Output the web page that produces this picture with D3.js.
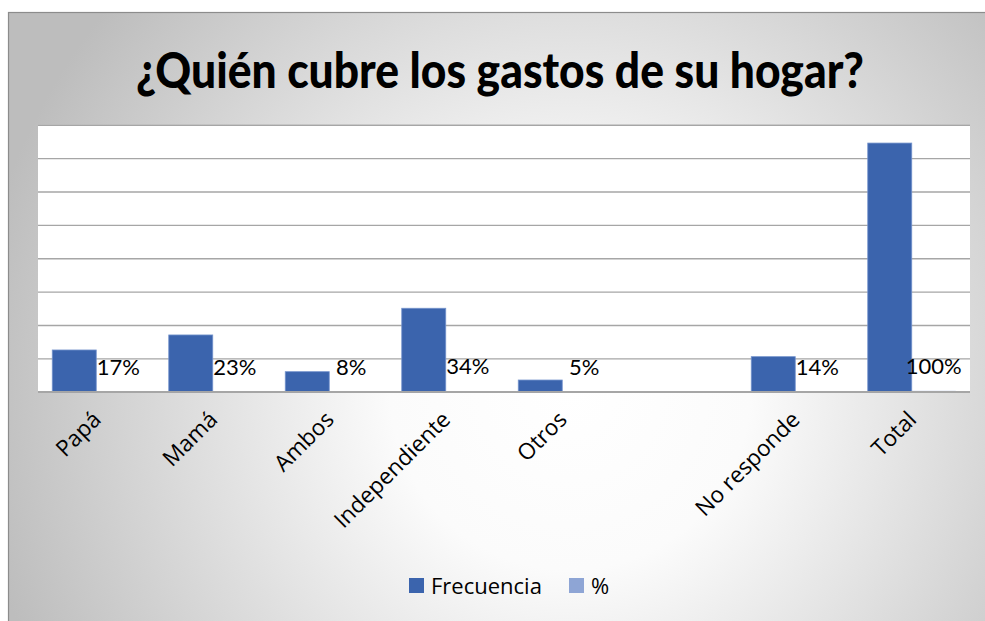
<!DOCTYPE html>
<html>
<head>
<meta charset="utf-8">
<script src="https://cdnjs.cloudflare.com/ajax/libs/d3/7.8.5/d3.min.js"></script>
<style>
  body { margin: 0; background: #fff; }
  svg { display: block; }
</style>
</head>
<body>
<div id="chart"></div>
<script>
// data
var chartTitle = "¿Quién cubre los gastos de su hogar?";
var categories = ["Papá", "Mamá", "Ambos", "Independiente", "Otros", "", "No responde", "Total"];
var frecuencia = [50, 68, 24, 100, 14, null, 42, 298];
var porcentaje = [0.17, 0.23, 0.08, 0.34, 0.05, null, 0.14, 1.00];
var pctLabels = ["17%", "23%", "8%", "34%", "5%", "", "14%", "100%"];
var seriesNames = ["Frecuencia", "%"];
var yTicks = [0, 40, 80, 120, 160, 200, 240, 280, 320];

var seriesColours = { "Frecuencia": "#3b64ad", "%": "#8ea5d5" };

var width = 985, height = 621;
var plot = { left: 38, right: 970, top: 124.7, bottom: 391.7 };

var svg = d3.select("#chart")
  .append("svg")
  .attr("width", width)
  .attr("height", height);

// background - excel style gradient, white in the middle fading to grey
var defs = svg.append("defs");
var grad = defs.append("radialGradient")
  .attr("id", "bgGrad")
  .attr("gradientUnits", "userSpaceOnUse")
  .attr("cx", 570).attr("cy", 390).attr("r", 600);
grad.append("stop").attr("offset", "0").attr("stop-color", "#ffffff");
grad.append("stop").attr("offset", "0.3").attr("stop-color", "#fbfbfb");
grad.append("stop").attr("offset", "1").attr("stop-color", "#bdbdbd");

svg.append("rect")
  .attr("x", 8.5).attr("y", 12.5)
  .attr("width", 1000).attr("height", 640)
  .style("fill", "url(#bgGrad)")
  .style("stroke", "#8c8c8c")
  .style("stroke-width", 1.2);

// title
svg.append("text")
  .attr("x", 500).attr("y", 88)
  .attr("text-anchor", "middle")
  .attr("textLength", 728)
  .attr("lengthAdjust", "spacingAndGlyphs")
  .style("font-family", "Lato, 'Open Sans', sans-serif")
  .style("font-weight", "900")
  .style("font-size", "49px")
  .style("fill", "#000")
  .text(chartTitle);

// scales
var x = d3.scaleBand()
  .domain(categories.map(function (d, i) { return i; }))
  .range([plot.left, plot.right])
  .paddingInner(0).paddingOuter(0);

var xInner = d3.scaleBand()
  .domain(seriesNames)
  .range([0, x.bandwidth()])
  .paddingInner(0)
  .paddingOuter(0.324);

var y = d3.scaleLinear()
  .domain([0, 320])
  .range([plot.bottom, plot.top]);

// plot area
svg.append("rect")
  .attr("x", plot.left).attr("y", plot.top)
  .attr("width", plot.right - plot.left)
  .attr("height", plot.bottom - plot.top)
  .style("fill", "#fff");

// gridlines (no tick labels on this one)
svg.append("g")
  .attr("class", "grid")
  .attr("transform", "translate(" + plot.left + ",0)")
  .call(d3.axisLeft(y).tickValues(yTicks).tickSize(-(plot.right - plot.left)).tickFormat(""))
  .call(function (g) {
    g.select(".domain").remove();
    g.selectAll(".tick line")
      .style("stroke", "#a6a6a6")
      .style("stroke-width", 1.4);
  });

// bars
var rows = categories.map(function (c, i) {
  return { i: i, cat: c, values: [
    { key: "Frecuencia", value: frecuencia[i] },
    { key: "%", value: porcentaje[i] }
  ] };
});

var groups = svg.append("g")
  .selectAll("g")
  .data(rows)
  .enter()
  .append("g")
  .attr("transform", function (d) { return "translate(" + x(d.i) + ",0)"; });

groups.selectAll("rect")
  .data(function (d) { return d.values.filter(function (v) { return v.value != null; }); })
  .enter()
  .append("rect")
  .attr("x", function (v) { return xInner(v.key); })
  .attr("y", function (v) { return y(v.value); })
  .attr("width", xInner.bandwidth())
  .attr("height", function (v) { return y(0) - y(v.value); })
  .style("fill", function (v) { return seriesColours[v.key]; })
  .style("stroke", function (v) { return v.key == "Frecuencia" ? "#7493cc" : "none"; })
  .style("stroke-width", 0.8);

// % labels sit on top of the (nearly flat) % bars
groups.append("text")
  .attr("x", xInner("%") + xInner.bandwidth() / 2)
  .attr("y", function (d) { return d.values[1].value == null ? 0 : y(d.values[1].value) - 17; })
  .attr("text-anchor", "middle")
  .style("font-family", "Lato, 'Open Sans', sans-serif")
  .style("font-size", "22px")
  .style("fill", "#000")
  .text(function (d) { return pctLabels[d.i]; });

// x axis line + rotated labels
svg.append("line")
  .attr("x1", plot.left).attr("x2", plot.right)
  .attr("y1", y(0)).attr("y2", y(0))
  .style("stroke", "#a6a6a6")
  .style("stroke-width", 1.6);

svg.append("g")
  .selectAll("text")
  .data(rows)
  .enter()
  .append("text")
  .attr("text-anchor", "end")
  .attr("transform", function (d) {
    return "translate(" + (x(d.i) + x.bandwidth() / 2 + 6) + ",421) rotate(-45)";
  })
  .style("font-family", "'Open Sans', sans-serif")
  .style("font-size", "22.5px")
  .style("fill", "#000")
  .text(function (d) { return d.cat; });

// legend
var legend = svg.append("g")
  .attr("transform", "translate(409,578)");
var legendX = [0, 160];
seriesNames.forEach(function (s, k) {
  var lg = legend.append("g").attr("transform", "translate(" + legendX[k] + ",0)");
  lg.append("rect")
    .attr("width", 15).attr("height", 15)
    .style("fill", seriesColours[s]);
  lg.append("text")
    .attr("x", 22).attr("y", 15.5)
    .style("font-family", "'Open Sans', sans-serif")
    .style("font-size", "22px")
    .style("fill", "#000")
    .text(s);
});
</script>
</body>
</html>
